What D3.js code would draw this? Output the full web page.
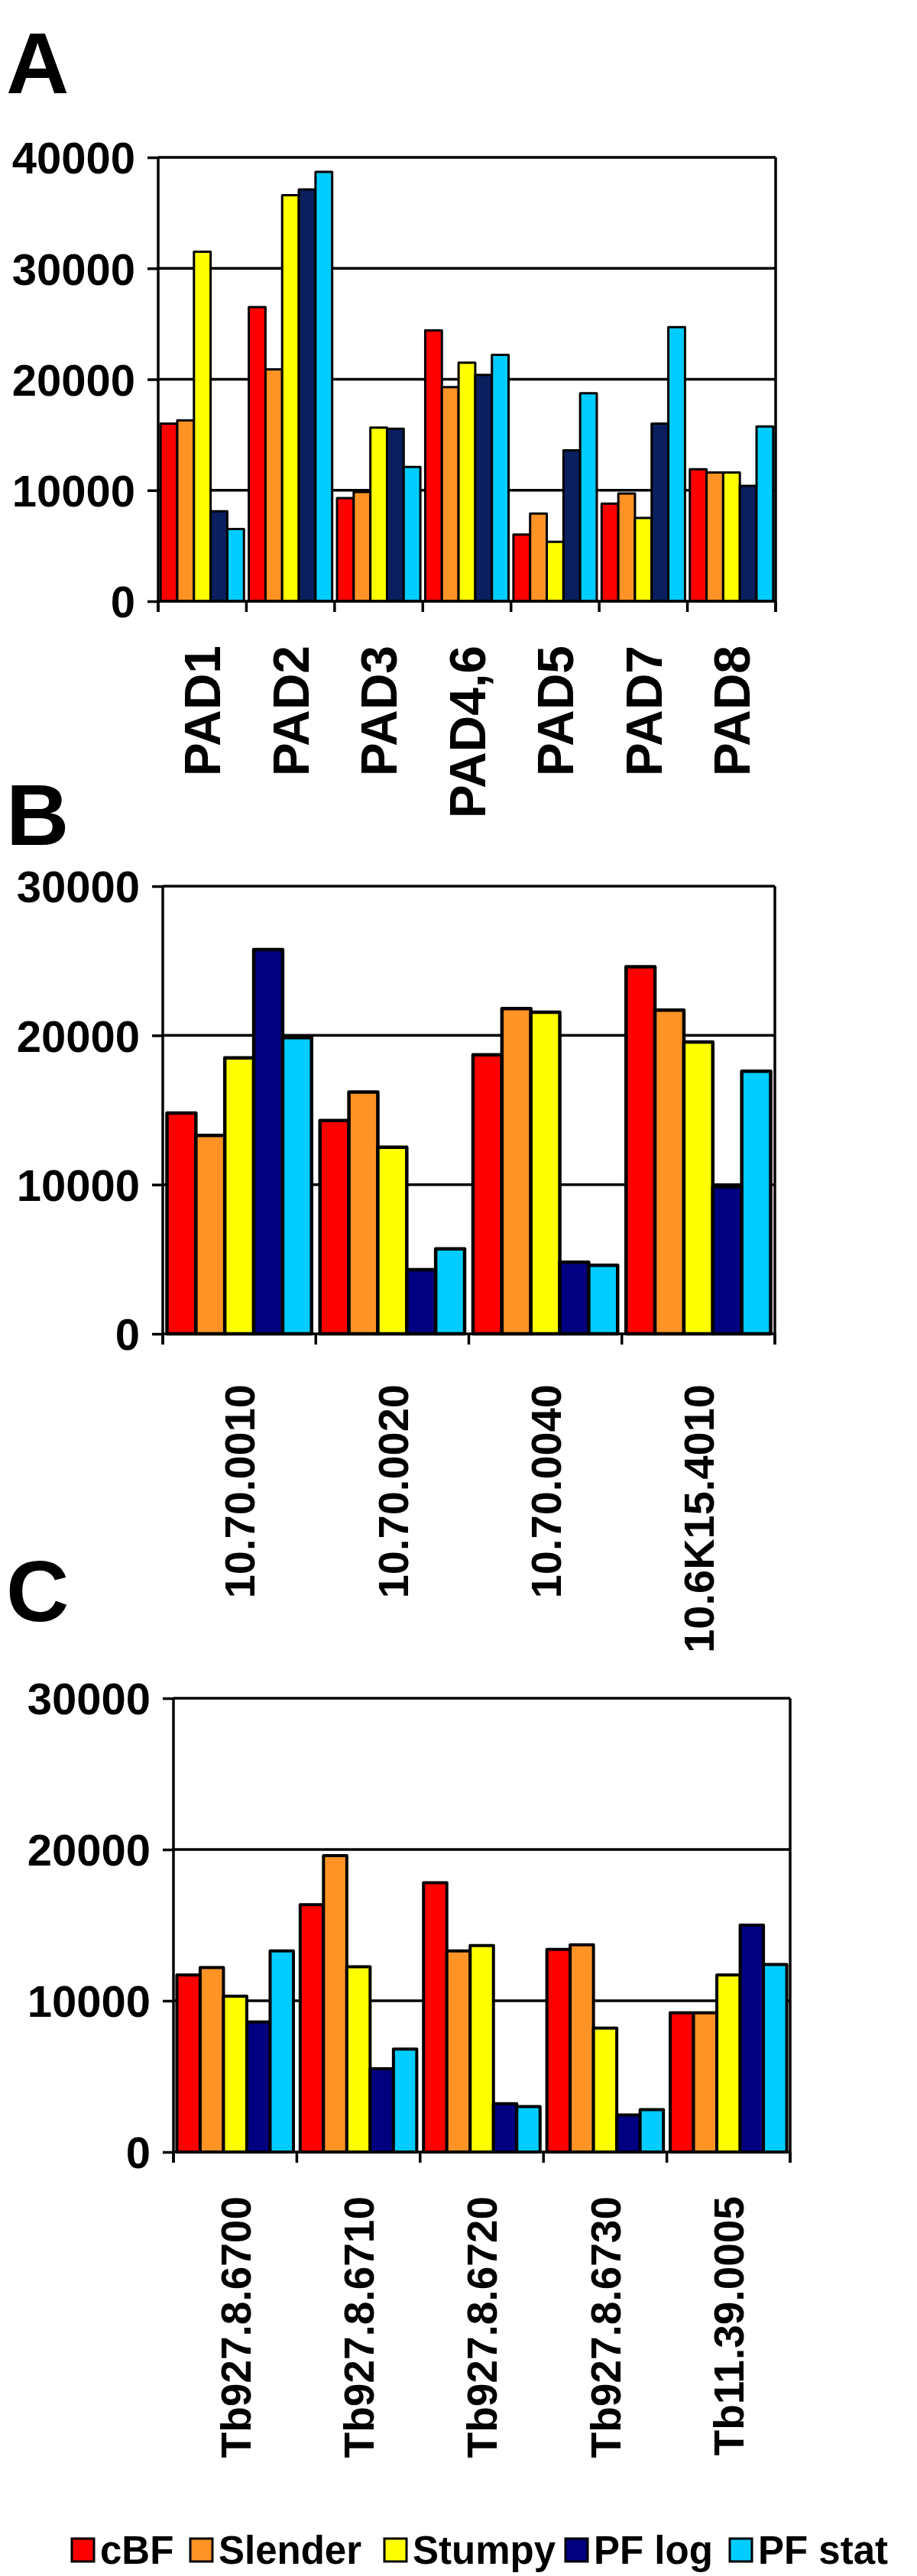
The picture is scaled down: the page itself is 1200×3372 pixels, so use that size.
<!DOCTYPE html>
<html><head><meta charset="utf-8">
<script src="https://cdn.jsdelivr.net/npm/d3@7/dist/d3.min.js"></script>
<style>
html,body{margin:0;padding:0;background:#fff;}
svg text{font-family:Arial,"Liberation Sans",sans-serif;font-weight:bold;fill:#000;}
</style></head>
<body>
<svg id="chart" width="1200" height="3372"></svg>
<script>
const seriesNames = ["cBF","Slender","Stumpy","PF log","PF stat"];

const categoriesA = ["PAD1","PAD2","PAD3","PAD4,6","PAD5","PAD7","PAD8"];
const cBF_A     = [16000, 26500, 9300, 24400, 6000, 8800, 11900];
const slender_A = [16300, 20900, 9850, 19300, 7900, 9700, 11600];
const stumpy_A  = [31500, 36600, 15650, 21500, 5350, 7500, 11600];
const pflog_A   = [8100, 37100, 15550, 20400, 13600, 16000, 10400];
const pfstat_A  = [6500, 38700, 12100, 22200, 18750, 24700, 15750];
const ticksA    = [0, 10000, 20000, 30000, 40000];

const categoriesB = ["10.70.0010","10.70.0020","10.70.0040","10.6K15.4010"];
const cBF_B     = [14800, 14300, 18700, 24600];
const slender_B = [13300, 16200, 21800, 21700];
const stumpy_B  = [18500, 12500, 21550, 19550];
const pflog_B   = [25750, 4300, 4800, 9850];
const pfstat_B  = [19850, 5700, 4600, 17600];
const ticksB    = [0, 10000, 20000, 30000];

const categoriesC = ["Tb927.8.6700","Tb927.8.6710","Tb927.8.6720","Tb927.8.6730","Tb11.39.0005"];
const cBF_C     = [11700, 16350, 17800, 13400, 9200];
const slender_C = [12200, 19600, 13300, 13700, 9200];
const stumpy_C  = [10300, 12250, 13650, 8200, 11700];
const pflog_C   = [8600, 5500, 3200, 2450, 15000];
const pfstat_C  = [13300, 6800, 3000, 2800, 12400];
const ticksC    = [0, 10000, 20000, 30000];

const svg = d3.select("#chart");

function panel(cfg){
  const {cats, series, ticks, left, right, top, bottom, colors, barStroke, lineW,
         letter, letterY, tickFont, tickPad, catFont, catOffset} = cfg;
  const g = svg.append("g");
  const x = d3.scaleBand().domain(cats).range([left, right]).paddingInner(0).paddingOuter(0);
  const inner = d3.scaleBand().domain(seriesNames).range([0, x.bandwidth()]).paddingOuter(0.145).paddingInner(0);
  const y = d3.scaleLinear().domain([0, d3.max(ticks)]).range([bottom, top]);
  const tl = 14;

  // gridlines
  g.selectAll("line.grid").data(ticks.filter(t => t > 0)).enter().append("line")
    .attr("x1", left).attr("x2", right).attr("y1", d => y(d)).attr("y2", d => y(d))
    .attr("stroke", "#000").attr("stroke-width", lineW);

  // bars
  const rows = cats.map((c, i) => seriesNames.map((s, j) => ({cat: c, s, v: series[j][i], j})));
  const grp = g.selectAll("g.cat").data(rows).enter().append("g")
    .attr("transform", (d, i) => `translate(${x(cats[i])},0)`);
  grp.selectAll("rect").data(d => d).enter().append("rect")
    .attr("x", d => inner(d.s)).attr("width", inner.bandwidth())
    .attr("y", d => y(d.v)).attr("height", d => y(0) - y(d.v))
    .attr("fill", d => colors[d.j]).attr("stroke", "#000").attr("stroke-width", barStroke)
    .attr("stroke-linejoin", "round");

  // y axis
  const ya = d3.axisLeft(y).tickValues(ticks).tickSize(tl).tickPadding(tickPad).tickFormat(d3.format("d"));
  const yg = g.append("g").attr("transform", `translate(${left},0)`).call(ya);
  yg.select(".domain").remove();
  yg.selectAll(".tick line").attr("stroke", "#000").attr("stroke-width", lineW);
  yg.selectAll(".tick text").attr("font-size", tickFont).attr("dy", "0.36em")
    .style("font-family", "Arial, 'Liberation Sans', sans-serif").style("font-weight", "bold").attr("fill", "#000");
  g.append("line").attr("x1", left).attr("x2", left).attr("y1", top).attr("y2", bottom + tl)
    .attr("stroke", "#000").attr("stroke-width", lineW);

  // x axis line + boundary ticks
  g.append("line").attr("x1", left).attr("x2", right).attr("y1", y(0)).attr("y2", y(0))
    .attr("stroke", "#000").attr("stroke-width", lineW);
  const bounds = cats.map(c => x(c)).concat([right]);
  g.selectAll("line.bt").data(bounds).enter().append("line")
    .attr("x1", d => d).attr("x2", d => d).attr("y1", y(0)).attr("y2", y(0) + tl)
    .attr("stroke", "#000").attr("stroke-width", lineW);
  g.append("line").attr("x1", right).attr("x2", right).attr("y1", top).attr("y2", bottom + tl)
    .attr("stroke", "#000").attr("stroke-width", lineW);

  // category labels (rotated)
  g.selectAll("text.cl").data(cats).enter().append("text")
    .attr("transform", d => `translate(${x(d) + x.bandwidth()/2},${bottom + catOffset}) rotate(-90)`)
    .attr("text-anchor", "end").attr("dy", "0.36em").attr("font-size", catFont).text(d => d);

  // panel letter
  svg.append("text").attr("x", 8).attr("y", letterY).attr("font-size", 114).text(letter);
}

panel({cats: categoriesA, series: [cBF_A, slender_A, stumpy_A, pflog_A, pfstat_A], ticks: ticksA,
  left: 207, right: 1015, top: 206, bottom: 787,
  colors: ["#FF0000","#FF9326","#FFFF00","#0A1F5E","#00CCFF"], barStroke: 3, lineW: 3.5,
  letter: "A", letterY: 122, tickFont: 58, tickPad: 16, catFont: 66, catOffset: 58});

panel({cats: categoriesB, series: [cBF_B, slender_B, stumpy_B, pflog_B, pfstat_B], ticks: ticksB,
  left: 213, right: 1014, top: 1160, bottom: 1746,
  colors: ["#FF0000","#FF9326","#FFFF00","#000080","#00CCFF"], barStroke: 4.5, lineW: 3.5,
  letter: "B", letterY: 1106, tickFont: 58, tickPad: 16, catFont: 56, catOffset: 66});

panel({cats: categoriesC, series: [cBF_C, slender_C, stumpy_C, pflog_C, pfstat_C], ticks: ticksC,
  left: 227, right: 1034, top: 2223, bottom: 2817,
  colors: ["#FF0000","#FF9326","#FFFF00","#000080","#00CCFF"], barStroke: 4, lineW: 3.5,
  letter: "C", letterY: 2122, tickFont: 58, tickPad: 16, catFont: 55, catOffset: 58});

// legend
const legendColors = ["#FF0000","#FF9326","#FFFF00","#000080","#00CCFF"];
const legendX = [94, 249, 503, 740, 955];
const lg = svg.append("g");
const items = lg.selectAll("g").data(seriesNames).enter().append("g")
  .attr("transform", (d, i) => `translate(${legendX[i]},3323)`);
items.append("rect").attr("width", 29).attr("height", 30).attr("fill", (d, i) => legendColors[i])
  .attr("stroke", "#000").attr("stroke-width", 3);
items.append("text").attr("x", 37).attr("y", 33).attr("font-size", 51).text(d => d);
</script>
</body></html>
